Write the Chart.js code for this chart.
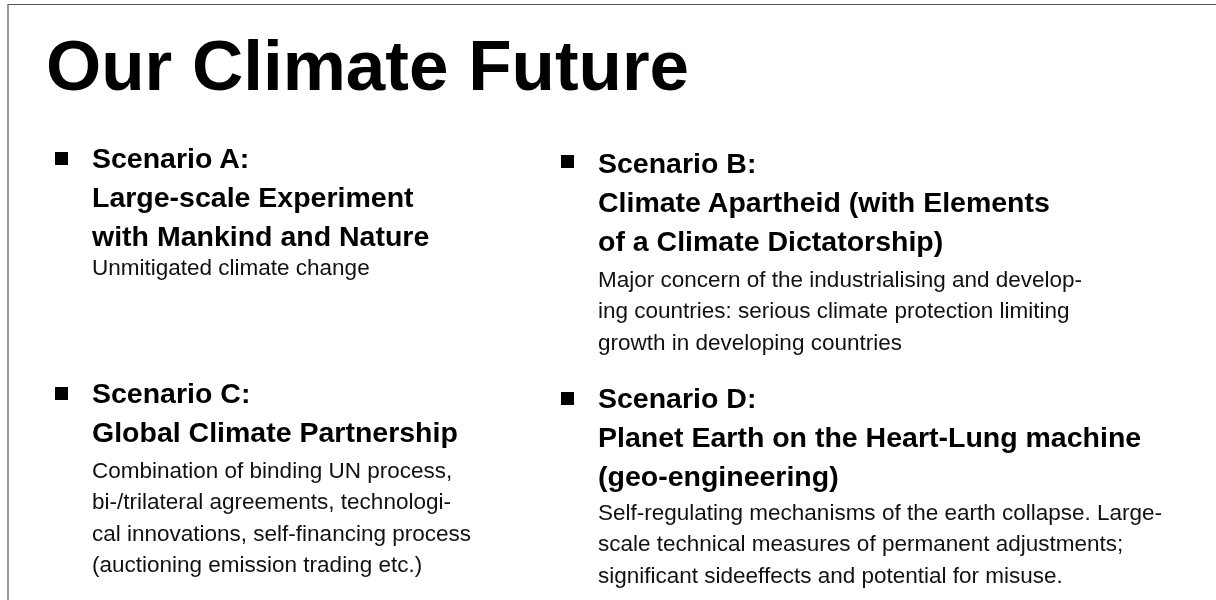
<!DOCTYPE html>
<html>
<head>
<meta charset="utf-8">
<script src="https://cdn.jsdelivr.net/npm/chart.js@4.4.1/dist/chart.umd.min.js"></script>
<style>
  html, body { margin: 0; padding: 0; background: #fff; }
  body { width: 1216px; height: 600px; position: relative; overflow: hidden; font-family: "Liberation Sans", Arial, sans-serif; }
  #frame { position: absolute; left: 7px; top: 4px; width: 1300px; height: 700px;
           border-top: 1px solid #555; border-left: 2px solid #9a9a9a; box-sizing: border-box; }
  #chartWrap { position: absolute; left: 0; top: 0; width: 1216px; height: 600px; }
  .block { position: absolute; }
  .head { font-weight: bold; font-size: 28.5px; line-height: 39px; color: #000; white-space: nowrap; }
  .desc { font-size: 22.5px; line-height: 31.5px; color: #111; white-space: nowrap; }
  .bullet { position: absolute; width: 13px; height: 13px; background: #000; }
</style>
</head>
<body>
<div id="frame"></div>
<div id="chartWrap"><canvas id="c" width="1216" height="600"></canvas></div>
<div id="content"></div>
<script>
// ---- data ----
const titleText = "Our Climate Future";
const scenarioIds = ["A", "B", "C", "D"];
const scenarioLabels = ["Scenario A:", "Scenario B:", "Scenario C:", "Scenario D:"];
const headingA = ["Large-scale Experiment", "with Mankind and Nature"];
const headingB = ["Climate Apartheid (with Elements", "of a Climate Dictatorship)"];
const headingC = ["Global Climate Partnership"];
const headingD = ["Planet Earth on the Heart-Lung machine", "(geo-engineering)"];
const descA = ["Unmitigated climate change"];
const descB = ["Major concern of the industrialising and develop-",
               "ing countries: serious climate protection limiting",
               "growth in developing countries"];
const descC = ["Combination of binding UN process,",
               "bi-/trilateral agreements, technologi-",
               "cal innovations, self-financing process",
               "(auctioning emission trading etc.)"];
const descD = ["Self-regulating mechanisms of the earth collapse. Large-",
               "scale technical measures of permanent adjustments;",
               "significant sideeffects and potential for misuse."];

// ---- layout (positions only) ----
const layout = {
  A: { x: 92,  headTop: 138.6, descTop: 251.6, bulletX: 55,  bulletY: 152, heads: headingA, descs: descA },
  B: { x: 598, headTop: 143.6, descTop: 263.6, bulletX: 561, bulletY: 155, heads: headingB, descs: descB },
  C: { x: 92,  headTop: 373.6, descTop: 454.6, bulletX: 55,  bulletY: 387, heads: headingC, descs: descC },
  D: { x: 598, headTop: 378.6, descTop: 496.6, bulletX: 561, bulletY: 392, heads: headingD, descs: descD }
};

const content = document.getElementById('content');
scenarioIds.forEach((id, i) => {
  const L = layout[id];
  const b = document.createElement('div');
  b.className = 'bullet';
  b.style.left = L.bulletX + 'px';
  b.style.top = L.bulletY + 'px';
  content.appendChild(b);

  const h = document.createElement('div');
  h.className = 'block head';
  h.style.left = L.x + 'px';
  h.style.top = L.headTop + 'px';
  [scenarioLabels[i]].concat(L.heads).forEach(t => {
    const d = document.createElement('div'); d.textContent = t; h.appendChild(d);
  });
  content.appendChild(h);

  const ds = document.createElement('div');
  ds.className = 'block desc';
  ds.style.left = L.x + 'px';
  ds.style.top = L.descTop + 'px';
  L.descs.forEach(t => {
    const d = document.createElement('div'); d.textContent = t; ds.appendChild(d);
  });
  content.appendChild(ds);
});

// ---- Chart.js draws the slide title ----
new Chart(document.getElementById('c'), {
  type: 'bar',
  data: { labels: [], datasets: [] },
  options: {
    responsive: false,
    animation: false,
    events: [],
    layout: { padding: { left: 46, top: 0, right: 0, bottom: 0 } },
    scales: { x: { display: false }, y: { display: false } },
    plugins: {
      legend: { display: false },
      tooltip: { enabled: false },
      title: {
        display: true,
        text: titleText,
        align: 'start',
        color: '#000',
        font: { family: "'Liberation Sans', Arial, sans-serif", size: 71, weight: 'bold', lineHeight: 1.2 },
        padding: { top: 28, bottom: 0 }
      }
    }
  }
});
</script>
</body>
</html>
